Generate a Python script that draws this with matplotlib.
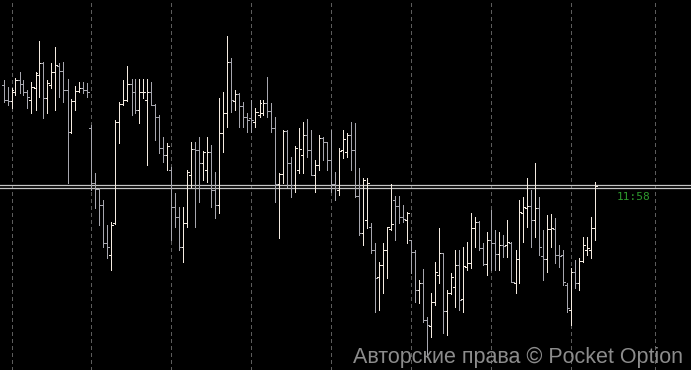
import numpy as np
import matplotlib
matplotlib.use("Agg")
import matplotlib.pyplot as plt

# OHLC quotes (price points), one bar per minute
opens = [315, 300, 299, 308, 320, 316, 308, 300, 312, 325, 337, 302, 315, 328, 334, 329, 310, 268, 299, 309,
         312, 310, 272, 217, 211, 195, 157, 145, 177, 278, 296, 300, 316, 308, 290, 308, 300, 308, 295, 283,
         252, 245, 230, 193, 183, 153, 177, 225, 251, 250, 237, 230, 248, 210, 195, 267, 287, 338, 299, 306,
         294, 283, 282, 278, 285, 287, 297, 289, 272, 216, 226, 269, 237, 215, 230, 245, 265, 250, 225, 235,
         262, 258, 240, 216, 210, 250, 248, 265, 250, 204, 167, 180, 173, 150, 123, 135, 150, 171, 200, 194,
         183, 180, 160, 148, 110, 117, 80, 74, 98, 125, 147, 89, 107, 113, 135, 101, 133, 137, 172, 178,
         152, 136, 160, 157, 146, 155, 155, 157, 117, 141, 187, 192, 194, 180, 192, 144, 141, 171, 171, 145,
         145, 115, 90, 128, 117, 139, 150, 150, 172]
highs = [320, 313, 312, 322, 328, 320, 310, 318, 328, 359, 338, 320, 337, 353, 337, 338, 321, 301, 314, 318,
         318, 317, 275, 227, 212, 200, 175, 178, 280, 298, 320, 334, 321, 321, 321, 321, 321, 318, 296, 285,
         263, 257, 233, 207, 193, 193, 230, 258, 258, 263, 249, 263, 255, 228, 302, 308, 364, 342, 310, 307,
         298, 287, 300, 292, 300, 300, 323, 297, 283, 227, 270, 270, 243, 254, 272, 278, 281, 270, 240, 265,
         263, 258, 270, 228, 252, 270, 267, 278, 277, 232, 222, 222, 177, 157, 138, 157, 173, 216, 204, 204,
         195, 188, 160, 150, 120, 131, 83, 107, 138, 172, 147, 110, 127, 150, 150, 153, 158, 187, 183, 179,
         157, 168, 190, 170, 168, 165, 180, 158, 150, 200, 203, 222, 210, 237, 203, 170, 185, 186, 182, 155,
         150, 117, 132, 140, 142, 163, 163, 183, 218]
lows = [298, 295, 292, 305, 307, 305, 292, 287, 290, 303, 282, 287, 312, 290, 303, 298, 217, 267, 290, 308,
        307, 303, 210, 192, 175, 153, 142, 130, 176, 257, 295, 299, 285, 287, 277, 302, 235, 295, 260, 247,
        238, 230, 160, 173, 150, 138, 173, 213, 173, 198, 220, 218, 193, 182, 187, 248, 273, 288, 290, 273,
        273, 268, 268, 273, 283, 285, 283, 268, 198, 162, 217, 213, 203, 208, 227, 227, 243, 225, 208, 230,
        240, 230, 208, 200, 205, 242, 243, 230, 203, 165, 155, 172, 147, 88, 90, 107, 122, 170, 160, 177,
        178, 157, 127, 98, 97, 78, 43, 63, 95, 117, 67, 65, 106, 93, 90, 88, 130, 132, 153, 150,
        135, 125, 130, 130, 130, 143, 143, 118, 107, 117, 158, 173, 153, 163, 145, 120, 128, 153, 137, 133,
        115, 88, 75, 112, 110, 138, 145, 142, 160]
closes = [300, 299, 310, 320, 316, 308, 303, 313, 327, 337, 302, 317, 328, 335, 329, 310, 268, 299, 309, 312,
          310, 308, 217, 211, 195, 157, 153, 175, 278, 296, 300, 316, 308, 290, 308, 308, 308, 295, 283, 252,
          245, 254, 193, 183, 153, 177, 228, 251, 250, 237, 248, 248, 210, 195, 267, 287, 338, 300, 306, 294,
          283, 280, 280, 288, 297, 297, 289, 272, 216, 226, 269, 237, 215, 252, 251, 265, 250, 225, 235, 262,
          258, 240, 216, 212, 249, 261, 265, 250, 204, 167, 220, 217, 150, 122, 135, 150, 173, 176, 194, 183,
          181, 187, 148, 110, 117, 80, 75, 98, 128, 147, 89, 107, 123, 135, 100, 134, 137, 172, 178, 152,
          136, 160, 157, 146, 155, 154, 158, 118, 141, 188, 193, 194, 180, 192, 153, 141, 171, 172, 145, 144,
          118, 92, 128, 117, 139, 155, 152, 172, 214]

grid_bars = [2, 22, 42, 62, 82, 102, 122, 142, 163]
bid_level = 214
timer_text = "11:58"
watermark = "Авторские права © Pocket Option"

opens, highs, lows, closes = map(np.array, (opens, highs, lows, closes))
idx = np.arange(len(opens))
up = closes >= opens

UP_COL = "#f4ebe1"
DOWN_COL = "#a7a7af"

fig = plt.figure(figsize=(6.91, 3.70), dpi=100, facecolor="black")
ax = fig.add_axes([0, 0, 1, 1])
ax.set_facecolor("black")
ax.set_xlim(-0.875, 171.875)
ax.set_ylim(30, 400)
ax.axis("off")

# dashed time separators
for g in grid_bars:
    ax.axvline(g, color="#5c5c5c", lw=0.72, ls=(0, (4, 4)), antialiased=False, zorder=1)

# OHLC bars
tick = 0.5
for mask, col in ((up, UP_COL), (~up, DOWN_COL)):
    ax.vlines(idx[mask], lows[mask], highs[mask], colors=col, lw=0.7, antialiased=False, zorder=3)
    ax.hlines(opens[mask], idx[mask] - tick, idx[mask], colors=col, lw=0.7, antialiased=False, zorder=3)
    ax.hlines(closes[mask], idx[mask], idx[mask] + tick, colors=col, lw=0.7, antialiased=False, zorder=3)

# current price line
ax.axhline(bid_level + 1, color="#c4c4c4", lw=0.9, zorder=2)
ax.axhline(bid_level - 1.5, color="#c4c4c4", lw=0.9, zorder=2)

ax.text(0.893, 0.468, timer_text, transform=ax.transAxes, color="#2e9a2e",
        fontsize=8, family="DejaVu Sans Mono", va="center", ha="left")
ax.text(0.988, 0.035, watermark, transform=ax.transAxes, color="#8c8c8c",
        fontsize=15.5, family="Liberation Sans", va="center", ha="right", zorder=5)

fig.savefig("out.png", dpi=100, facecolor="black")
